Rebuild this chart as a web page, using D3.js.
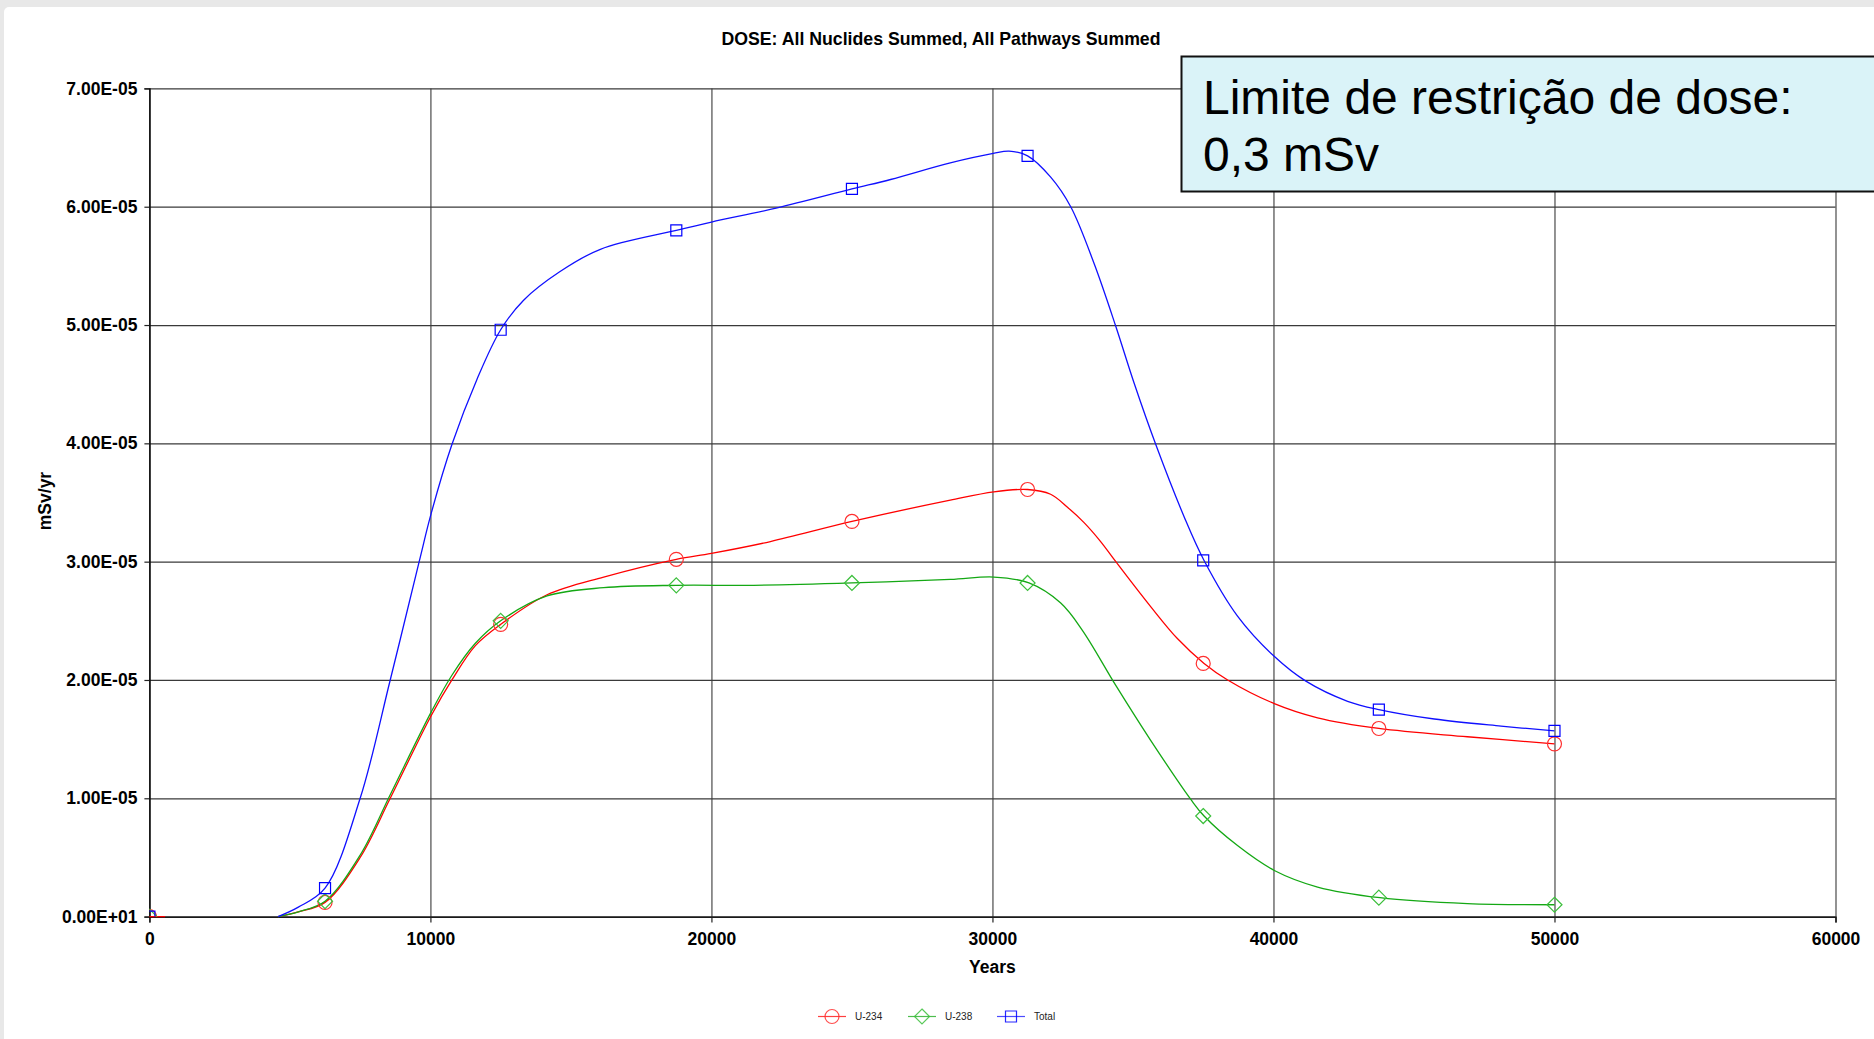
<!DOCTYPE html>
<html>
<head>
<meta charset="utf-8">
<script src="https://cdn.jsdelivr.net/npm/d3@7"></script>
<style>
body { margin: 0; background: #e8e8e8; }
svg { display: block; font-family: "Liberation Sans", Arial, sans-serif; }
</style>
</head>
<body>
<svg id="chart" width="1874" height="1039"></svg>
<script>
// values in units of 1e-5 mSv/yr
var markerYears = [0, 6250, 12500, 18750, 25000, 31250, 37500, 43750, 50000];
var u234Markers = [0, 0.12, 2.47, 3.02, 3.34, 3.61, 2.14, 1.59, 1.46];
var u238Markers = [0, 0.13, 2.50, 2.80, 2.82, 2.82, 0.85, 0.16, 0.10];
var totalMarkers = [0, 0.24, 4.96, 5.80, 6.15, 6.43, 3.01, 1.75, 1.57];

var u234Years = [0, 560, 561, 4580, 5300, 6250, 7500, 8570, 10030, 10765, 11600, 12500, 14150, 16165, 18750, 20000, 22100, 25000, 28500, 30050, 31250, 32070, 32670, 33260, 33850, 34390, 35630, 36580, 37530, 38370, 40030, 41570, 43750, 46900, 50000];
var u234Values = [0, 0, null, 0, 0.04, 0.12, 0.50, 1.00, 1.70, 2.00, 2.29, 2.47, 2.72, 2.87, 3.02, 3.07, 3.17, 3.34, 3.52, 3.59, 3.61, 3.57, 3.46, 3.33, 3.17, 3.00, 2.62, 2.35, 2.14, 2.00, 1.80, 1.68, 1.59, 1.52, 1.46];

var u238Years = [4580, 5300, 6250, 7500, 8570, 10030, 10765, 11600, 12500, 14150, 16165, 18750, 21500, 25000, 28500, 30050, 31300, 32430, 33200, 34400, 35630, 37060, 37530, 38720, 40030, 41570, 43790, 46900, 50000];
var u238Values = [0, 0.04, 0.13, 0.52, 1.03, 1.73, 2.04, 2.31, 2.50, 2.71, 2.78, 2.80, 2.80, 2.82, 2.85, 2.87, 2.82, 2.65, 2.42, 1.95, 1.49, 0.99, 0.85, 0.60, 0.39, 0.25, 0.16, 0.11, 0.10];

var totalYears = [4580, 5300, 6250, 7500, 8570, 9600, 10030, 10765, 11655, 12500, 13316, 14600, 16047, 18750, 20000, 22340, 25000, 26375, 28500, 30030, 30590, 31250, 32073, 32785, 33617, 34388, 35040, 35812, 36820, 37530, 38721, 40025, 41154, 42638, 43750, 45723, 48098, 50000];
var totalValues = [0, 0.08, 0.24, 1.00, 2.00, 3.00, 3.41, 3.99, 4.54, 4.96, 5.21, 5.45, 5.64, 5.80, 5.87, 5.99, 6.15, 6.23, 6.37, 6.45, 6.47, 6.43, 6.25, 6.00, 5.52, 4.99, 4.51, 3.99, 3.38, 3.01, 2.54, 2.20, 1.99, 1.82, 1.75, 1.67, 1.61, 1.57];

var xTicks = [0, 10000, 20000, 30000, 40000, 50000, 60000];
var yTicks = [0, 1, 2, 3, 4, 5, 6, 7];
var yTickLabels = ['0.00E+01', '1.00E-05', '2.00E-05', '3.00E-05', '4.00E-05', '5.00E-05', '6.00E-05', '7.00E-05'];
var seriesNames = ['U-234', 'U-238', 'Total'];

var svg = d3.select('#chart');
var L = 149.4, R = 1835.5, T = 88.4, B = 916.6;

var x = d3.scaleLinear().domain([0, 60000]).range([L, R]);
var y = d3.scaleLinear().domain([0, 7]).range([B, T]);

svg.append('rect').attr('x', 4).attr('y', 7).attr('width', 1880).attr('height', 1040)
    .attr('rx', 5).attr('fill', '#fff');

// grid
svg.append('g').attr('transform', 'translate(0,' + B + ')')
    .call(d3.axisBottom(x).tickValues(xTicks).tickSize(-(B - T)).tickFormat(''))
    .call(function (g) {
        g.select('.domain').remove();
        g.selectAll('line').attr('stroke', '#4a4a4a').attr('stroke-width', 1.2);
    });
svg.append('g').attr('transform', 'translate(' + L + ',0)')
    .call(d3.axisLeft(y).tickValues(yTicks).tickSize(-(R - L)).tickFormat(''))
    .call(function (g) {
        g.select('.domain').remove();
        g.selectAll('line').attr('stroke', '#3a3a3a').attr('stroke-width', 1.2);
    });

// axes
var xAxis = svg.append('g').attr('transform', 'translate(0,' + B + ')')
    .call(d3.axisBottom(x).tickValues(xTicks).tickSize(6).tickPadding(7).tickFormat(d3.format('d')));
var yAxis = svg.append('g').attr('transform', 'translate(' + L + ',0)')
    .call(d3.axisLeft(y).tickValues(yTicks).tickSize(5).tickPadding(7)
        .tickFormat(function (d, i) { return yTickLabels[i]; }));
[xAxis, yAxis].forEach(function (g) {
    g.select('.domain').attr('stroke', '#000').attr('stroke-width', 1.4);
    g.selectAll('.tick line').attr('stroke', '#222').attr('stroke-width', 1.2);
    g.selectAll('.tick text').attr('fill', '#000').style('font-size', '17.5px').style('font-weight', 'bold')
        .style('font-family', '"Liberation Sans", Arial, sans-serif');
});
xAxis.selectAll('.tick text').attr('dy', '0.9em');

// titles
svg.append('text').attr('x', 941).attr('y', 45).attr('text-anchor', 'middle')
    .style('font-size', '17.7px').style('font-weight', 'bold').text('DOSE: All Nuclides Summed, All Pathways Summed');
svg.append('text').attr('x', (L + R) / 2).attr('y', 973).attr('text-anchor', 'middle')
    .style('font-size', '17.5px').style('font-weight', 'bold').text('Years');
svg.append('text').attr('transform', 'translate(51,501) rotate(-90)').attr('text-anchor', 'middle')
    .style('font-size', '17.5px').style('font-weight', 'bold').text('mSv/yr');

// series
var series = [
    { name: seriesNames[0], years: u234Years, values: u234Values, mYears: markerYears, mValues: u234Markers, color: '#ff0000', mcolor: '#ff3030', shape: 'circle' },
    { name: seriesNames[1], years: u238Years, values: u238Values, mYears: markerYears, mValues: u238Markers, color: '#14a814', mcolor: '#3cbf3c', shape: 'diamond' },
    { name: seriesNames[2], years: totalYears, values: totalValues, mYears: markerYears, mValues: totalMarkers, color: '#1010ff', mcolor: '#0000ff', shape: 'square' }
];

svg.append('clipPath').attr('id', 'plotclip').append('rect')
    .attr('x', L).attr('y', T).attr('width', R - L).attr('height', B - T);

var line = d3.line()
    .defined(function (d) { return d[1] !== null; })
    .x(function (d) { return x(d[0]); })
    .y(function (d) { return y(d[1]); })
    .curve(d3.curveCatmullRom.alpha(0.5));

function shapePath(shape) {
    if (shape === 'circle') return 'M-7,0A7,7 0 1,0 7,0A7,7 0 1,0 -7,0Z';
    if (shape === 'diamond') return 'M0,-7.5L7.5,0L0,7.5L-7.5,0Z';
    return 'M-5.5,-5.5H5.5V5.5H-5.5Z';
}

series.forEach(function (s) {
    var pts = s.years.map(function (yr, i) { return [yr, s.values[i]]; });
    svg.append('path').datum(pts).attr('d', line)
        .attr('fill', 'none').attr('stroke', s.color).attr('stroke-width', 1.3);
});
series.forEach(function (s) {
    svg.append('g').attr('clip-path', 'url(#plotclip)')
        .selectAll('path').data(s.mYears.map(function (yr, i) { return [yr, s.mValues[i]]; }))
        .enter().append('path')
        .attr('transform', function (d) { return 'translate(' + x(d[0]) + ',' + y(d[1]) + ')'; })
        .attr('d', shapePath(s.shape))
        .attr('fill', 'none').attr('stroke', s.mcolor).attr('stroke-width', 1.2);
});

// legend
var legendX = [818, 908, 997];
var leg = svg.append('g').attr('transform', 'translate(0,1016.5)');
series.forEach(function (s, i) {
    var g = leg.append('g').attr('transform', 'translate(' + legendX[i] + ',0)');
    g.append('line').attr('x1', 0).attr('x2', 28).attr('stroke', s.color).attr('stroke-width', 1.2).attr('opacity', 0.75);
    g.append('path').attr('transform', 'translate(14,0)').attr('d', shapePath(s.shape))
        .attr('fill', 'none').attr('stroke', s.mcolor).attr('stroke-width', 1.2).attr('opacity', 0.85);
    g.append('text').attr('x', 37).attr('dy', '0.35em').style('font-size', '10px').attr('fill', '#222').text(s.name);
});

// annotation box
svg.append('rect').attr('x', 1181.5).attr('y', 56.5).attr('width', 720).attr('height', 135)
    .attr('fill', '#daf3f8').attr('stroke', '#111').attr('stroke-width', 2);
var note = svg.append('text').style('font-size', '48px').attr('fill', '#000');
note.append('tspan').attr('x', 1203).attr('y', 114).text('Limite de restrição de dose:');
note.append('tspan').attr('x', 1203).attr('y', 171).text('0,3 mSv');
</script>
</body>
</html>
